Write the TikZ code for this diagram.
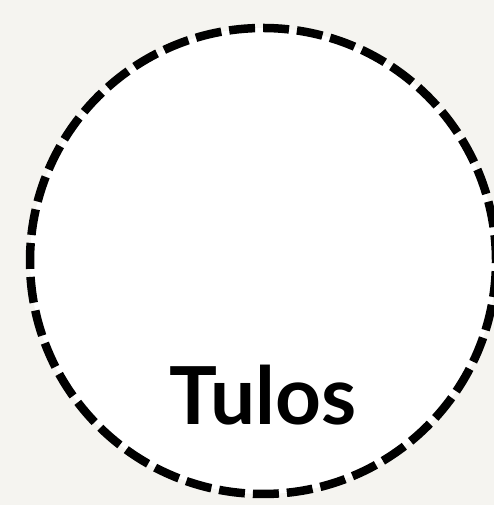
\documentclass[tikz,border=0pt]{standalone}
\usepackage{fontspec}
\setmainfont{Lato}
\usepackage{xcolor}
\usepackage{tikz}
\usetikzlibrary{positioning}
\definecolor{paper}{HTML}{F5F4F0}

\begin{document}
\begin{tikzpicture}[x=1pt,y=1pt,
        result/.style={circle,draw=black,fill=white,line width=8.5pt,
                       dash pattern=on 26pt off 8pt,minimum size=466pt,
                       inner sep=0pt},
        title/.style={anchor=base,font=\fontsize{80}{82}\selectfont\bfseries}]
        \fill[paper] (0,0) rectangle (494,505);
        \useasboundingbox (0,0) rectangle (494,505);
        \node[result] (res) at (263,244) {};
        \node[title] (lbl) at (263,80) {Tulos};
      \end{tikzpicture}
\end{document}
